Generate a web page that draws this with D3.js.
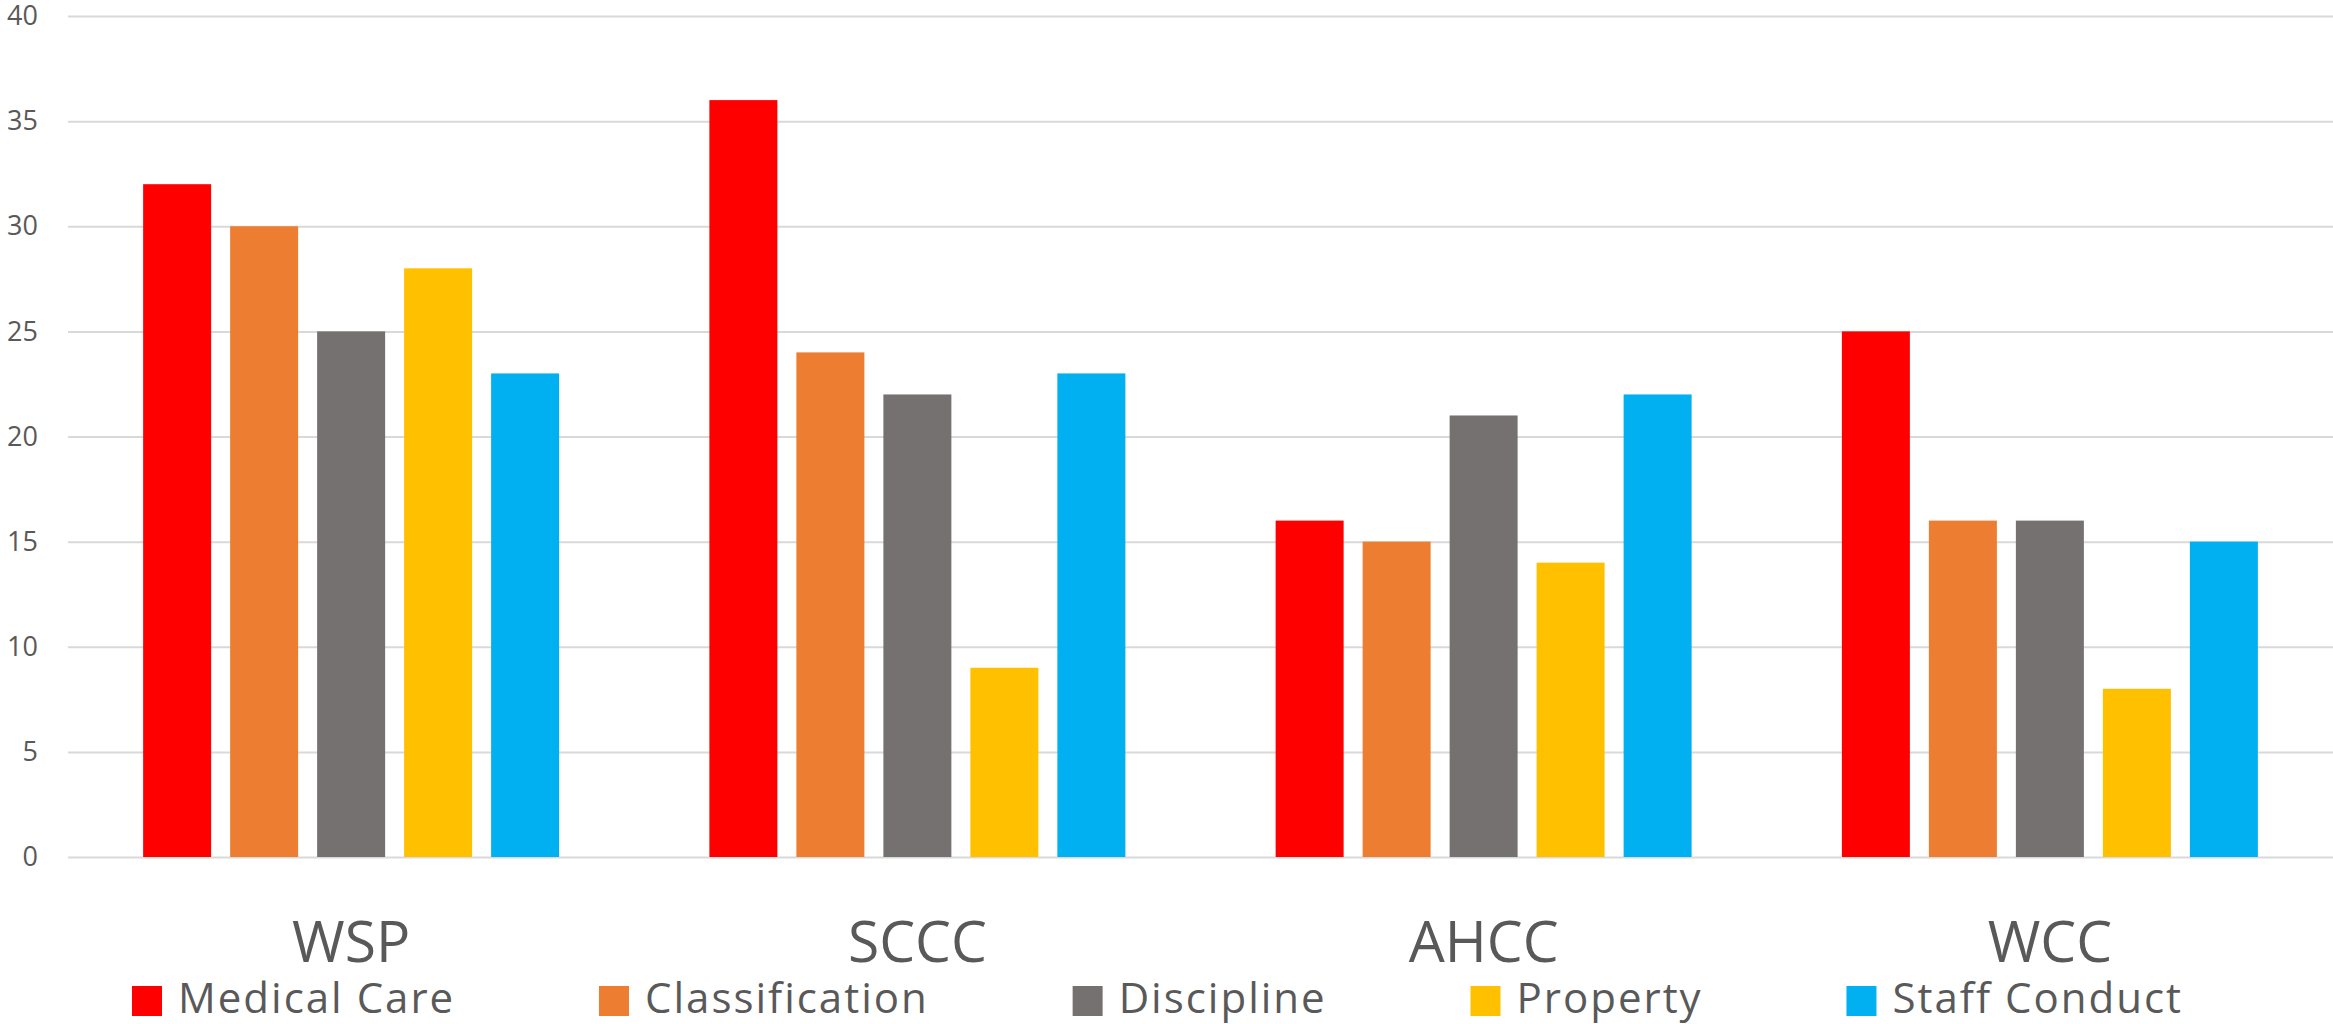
<!DOCTYPE html>
<html>
<head>
<meta charset="utf-8">
<script src="https://cdn.jsdelivr.net/npm/d3@7"></script>
<style>
  html, body { margin: 0; padding: 0; background: #ffffff; }
  svg { display: block; font-family: "Open Sans", "Noto Sans", sans-serif; }
</style>
</head>
<body>
<svg id="chart" width="2333" height="1024"></svg>
<script>
// Complaints by facility and category
const facilities = ["WSP", "SCCC", "AHCC", "WCC"];
const complaintTypes = ["Medical Care", "Classification", "Discipline", "Property", "Staff Conduct"];
const medicalCare    = [32, 36, 16, 25];
const classification = [30, 24, 15, 16];
const discipline     = [25, 22, 21, 16];
const property       = [28, 9, 14, 8];
const staffConduct   = [23, 23, 22, 15];
const typeColors = ["#FF0000", "#ED7D31", "#767171", "#FFC000", "#00B0F0"];
const yTicks = [0, 5, 10, 15, 20, 25, 30, 35, 40];

const seriesValues = [medicalCare, classification, discipline, property, staffConduct];

const W = 2333, H = 1024;
const margin = { left: 68, right: 0, top: 16, bottom: 167 };
const svg = d3.select("#chart");

const x0 = d3.scaleBand()
  .domain(facilities)
  .range([margin.left, W - margin.right])
  .paddingInner(0)
  .paddingOuter(0);

const x1 = d3.scaleBand()
  .domain(complaintTypes)
  .range([0, x0.bandwidth()])
  .paddingInner(0.2184)
  .paddingOuter(0.8636);

const y = d3.scaleLinear()
  .domain([0, 40])
  .range([H - margin.bottom, margin.top]);

const color = d3.scaleOrdinal().domain(complaintTypes).range(typeColors);

// Horizontal gridlines with value labels
const yAxis = d3.axisLeft(y)
  .tickValues(yTicks)
  .tickSize(-(W - margin.left - margin.right))
  .tickPadding(30);

const gy = svg.append("g")
  .attr("transform", `translate(${margin.left},0)`)
  .call(yAxis);
gy.select(".domain").remove();
gy.selectAll(".tick line")
  .attr("stroke", "#d9d9d9")
  .attr("stroke-width", 2);
gy.selectAll(".tick text")
  .attr("fill", "#595959")
  .attr("font-size", 27)
  .attr("font-family", "'Open Sans', sans-serif");

// Grouped bars
const rows = facilities.map((f, i) => ({
  facility: f,
  values: complaintTypes.map((t, j) => ({ type: t, value: seriesValues[j][i] }))
}));

svg.append("g")
  .selectAll("g")
  .data(rows)
  .join("g")
    .attr("transform", d => `translate(${x0(d.facility)},0)`)
  .selectAll("rect")
  .data(d => d.values)
  .join("rect")
    .attr("x", d => x1(d.type))
    .attr("y", d => y(d.value))
    .attr("width", x1.bandwidth())
    .attr("height", d => y(0) - y(d.value))
    .attr("fill", d => color(d.type));

// Category axis labels
const xAxis = d3.axisBottom(x0).tickSize(0).tickPadding(0);
const gx = svg.append("g")
  .attr("transform", `translate(0,${y(0)})`)
  .call(xAxis);
gx.select(".domain").remove();
gx.selectAll(".tick text")
  .attr("fill", "#595959")
  .attr("font-size", 57)
  .attr("font-family", "'Open Sans', sans-serif")
  .attr("dy", null)
  .attr("y", 105);

// Legend
const legend = svg.append("g").attr("class", "legend");
const legendItems = legend.selectAll("g")
  .data(complaintTypes)
  .join("g");
legendItems.append("rect")
  .attr("width", 30)
  .attr("height", 30)
  .attr("y", 986)
  .attr("fill", d => color(d));
legendItems.append("text")
  .attr("x", 46)
  .attr("y", 1013)
  .attr("fill", "#595959")
  .attr("font-size", 42)
  .attr("letter-spacing", 2)
  .text(d => d);

// Lay legend entries out left to right with an even gap between them
const legendStart = 132, legendEnd = 2183;
const itemWidths = [];
legendItems.each(function () {
  const t = d3.select(this).select("text").node();
  itemWidths.push(46 + t.getComputedTextLength());
});
const totalText = d3.sum(itemWidths);
const gap = (legendEnd - legendStart - totalText) / (complaintTypes.length - 1);
let cursor = legendStart;
legendItems.attr("transform", (d, i) => {
  const tx = cursor;
  cursor += itemWidths[i] + gap;
  return `translate(${tx},0)`;
});
</script>
</body>
</html>
